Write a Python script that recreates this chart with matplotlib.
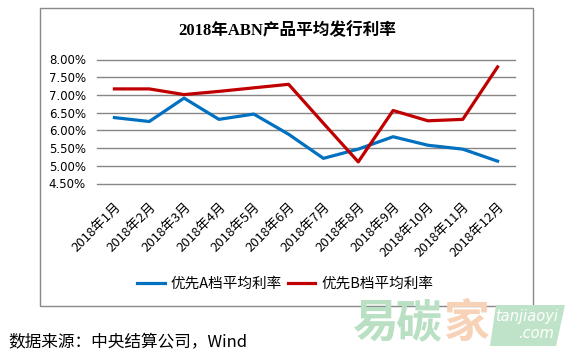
import matplotlib
matplotlib.use('Agg')
import matplotlib.pyplot as plt
from matplotlib.patches import Rectangle, Polygon

plt.rcParams['font.family'] = ['Noto Sans CJK SC', 'DejaVu Sans']

# 数据
months = ['2018年1月', '2018年2月', '2018年3月', '2018年4月', '2018年5月', '2018年6月',
          '2018年7月', '2018年8月', '2018年9月', '2018年10月', '2018年11月', '2018年12月']
rate_a = [6.36, 6.25, 6.91, 6.31, 6.46, 5.89, 5.21, 5.47, 5.82, 5.58, 5.47, 5.13]
rate_b = [7.17, 7.17, 7.01, 7.10, 7.20, 7.30, 6.20, 5.11, 6.56, 6.27, 6.31, 7.79]
yticks = [4.5, 5.0, 5.5, 6.0, 6.5, 7.0, 7.5, 8.0]

fig = plt.figure(figsize=(5.7, 3.55), dpi=100)
W, H = 570, 355

# 外框
fig.patches.append(Rectangle((40 / W, 1 - 306 / H), 493 / W, 298 / H,
                             transform=fig.transFigure, fill=False,
                             edgecolor='#898989', lw=1.0))

ax = fig.add_axes([97 / W, 1 - 183.5 / H, 418 / W, 124 / H])
x = range(len(months))
ax.plot(x, rate_a, color='#0070C0', lw=2.3, label='优先A档平均利率')
ax.plot(x, rate_b, color='#C00000', lw=2.3, label='优先B档平均利率')

ax.set_xlim(-0.5, len(months) - 0.5)
ax.set_ylim(4.5, 8.0)
ax.set_yticks(yticks)
ax.set_yticklabels(['%.2f%%' % v for v in yticks], family='DejaVu Sans', fontsize=8.5)
ax.set_xticks(list(x))
ax.set_xticklabels(months, rotation=45, ha='right', rotation_mode='anchor', fontsize=9.5)
ax.tick_params(axis='both', length=0)
ax.tick_params(axis='y', pad=8)
ax.tick_params(axis='x', pad=12)
for s in ax.spines.values():
    s.set_visible(False)
for v in yticks:
    ax.axhline(v, color='#868686', lw=1.0, zorder=0, clip_on=False)

fig.text(0.5035, 1 - 31 / H, '2018年ABN产品平均发行利率', ha='center', va='center',
         fontsize=12, fontweight='bold', family=['Liberation Serif', 'Noto Sans CJK SC'])

fig.legend(loc='center', bbox_to_anchor=(0.5, 1 - 284 / H), ncol=2, frameon=False,
           fontsize=10.5, handlelength=1.9, handletextpad=0.4, columnspacing=0.4)

fig.text(8 / W, 1 - 343 / H, '数据来源：中央结算公司，Wind', ha='left', va='center',
         fontsize=12)

# 水印
fig.text(375 / W, 1 - 324 / H, '易', ha='center', va='center', fontsize=33,
         color='#b9e0c3', fontweight='bold')
fig.text(418 / W, 1 - 324 / H, '碳', ha='center', va='center', fontsize=33,
         color='#b9e0c3', fontweight='bold')
fig.text(467 / W, 1 - 324 / H, '家', ha='center', va='center', fontsize=33,
         color='#f8d2b6', fontweight='bold')
fig.patches.append(Polygon([(490 / W, 1 - 346 / H), (556 / W, 1 - 346 / H),
                            (565 / W, 1 - 305 / H), (496 / W, 1 - 305 / H)],
                           closed=True, transform=fig.transFigure,
                           facecolor='#bfe3c8', edgecolor='none'))
fig.text(527 / W, 1 - 317 / H, 'tanjiaoyi', ha='center', va='center', fontsize=10.5,
         color='white', style='italic', family='DejaVu Sans')
fig.text(536 / W, 1 - 333 / H, '.com', ha='center', va='center', fontsize=10.5,
         color='white', style='italic', family='DejaVu Sans')

fig.savefig('out.png', dpi=100)
